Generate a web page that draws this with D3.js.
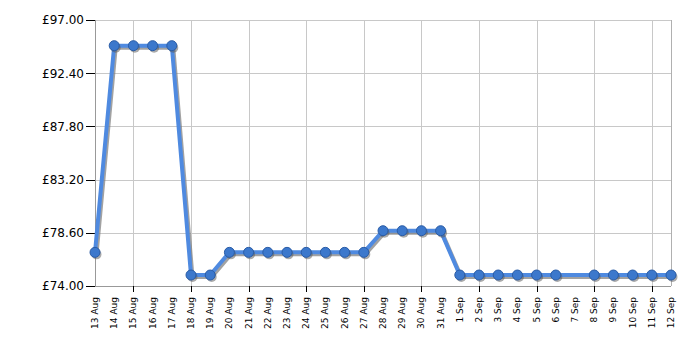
<!DOCTYPE html>
<html>
<head>
<meta charset="utf-8">
<script src="https://cdn.jsdelivr.net/npm/d3@7"></script>
<style>
body { margin: 0; background: #fff; }
text { font-family: Verdana, "DejaVu Sans", sans-serif; }
</style>
</head>
<body>
<script>
var dates = ["13 Aug", "14 Aug", "15 Aug", "16 Aug", "17 Aug", "18 Aug", "19 Aug", "20 Aug",
	"21 Aug", "22 Aug", "23 Aug", "24 Aug", "25 Aug", "26 Aug", "27 Aug", "28 Aug", "29 Aug",
	"30 Aug", "31 Aug", "1 Sep", "2 Sep", "3 Sep", "4 Sep", "5 Sep", "6 Sep", "7 Sep", "8 Sep",
	"9 Sep", "10 Sep", "11 Sep", "12 Sep"];

var prices = [76.91, 94.78, 94.78, 94.78, 94.78, 74.95, 74.95, 76.91,
	76.91, 76.91, 76.91, 76.91, 76.91, 76.91, 76.91, 78.78, 78.78,
	78.78, 78.78, 74.95, 74.95, 74.95, 74.95, 74.95, 74.95, null, 74.95,
	74.95, 74.95, 74.95, 74.95];

var yTicks = [74, 78.6, 83.2, 87.8, 92.4, 97];
var gridDates = ["15 Aug", "18 Aug", "21 Aug", "24 Aug", "27 Aug", "30 Aug", "2 Sep", "5 Sep", "8 Sep", "11 Sep"];

var margin = {top: 20, right: 29, bottom: 64, left: 95},
	width = 700 - margin.left - margin.right,
	height = 350 - margin.top - margin.bottom;

var svg = d3.select("body").append("svg")
	.attr("width", 700)
	.attr("height", 350)
	.append("g")
	.attr("transform", "translate(" + margin.left + "," + margin.top + ")");

var x = d3.scalePoint().domain(dates).range([0, width]);
var y = d3.scaleLinear().domain([74, 97]).range([height, 0]);

var points = dates.map(function(d, i) { return {date: d, price: prices[i]}; })
	.filter(function(d) { return d.price != null; });

// grid
svg.selectAll(".hgrid")
	.data(yTicks)
	.enter().append("line")
	.attr("x1", 0).attr("x2", width)
	.attr("y1", function(d) { return Math.round(y(d)) + 0.5; })
	.attr("y2", function(d) { return Math.round(y(d)) + 0.5; })
	.style("stroke", "#c8c8c8");

svg.selectAll(".vgrid")
	.data(gridDates)
	.enter().append("line")
	.attr("x1", function(d) { return Math.round(x(d)) + 0.5; })
	.attr("x2", function(d) { return Math.round(x(d)) + 0.5; })
	.attr("y1", 0).attr("y2", height)
	.style("stroke", "#c8c8c8");

// right border
svg.append("line")
	.attr("x1", width + 0.5).attr("x2", width + 0.5)
	.attr("y1", 0).attr("y2", height)
	.style("stroke", "#b0b0b0");

// axes lines
svg.append("line")
	.attr("x1", 0.5).attr("x2", 0.5).attr("y1", 0).attr("y2", height)
	.style("stroke", "#999");
svg.append("line")
	.attr("x1", 0).attr("x2", width).attr("y1", height + 0.5).attr("y2", height + 0.5)
	.style("stroke", "#999");

// y ticks and labels
svg.selectAll(".ytick")
	.data(yTicks)
	.enter().append("line")
	.attr("x1", -9).attr("x2", 0)
	.attr("y1", function(d) { return Math.round(y(d)) + 0.5; })
	.attr("y2", function(d) { return Math.round(y(d)) + 0.5; })
	.style("stroke", "#000");

svg.selectAll(".yLabel")
	.data(yTicks)
	.enter().append("text")
	.attr("x", -11)
	.attr("y", function(d) { return y(d); })
	.attr("dy", "0.36em")
	.style("text-anchor", "end")
	.style("font-size", "12px")
	.style("fill", "#000")
	.text(function(d) { return "£" + d.toFixed(2); });

// x ticks and labels
svg.selectAll(".xtick")
	.data(gridDates)
	.enter().append("line")
	.attr("x1", function(d) { return Math.round(x(d)) + 0.5; })
	.attr("x2", function(d) { return Math.round(x(d)) + 0.5; })
	.attr("y1", height).attr("y2", height + 6)
	.style("stroke", "#000");

svg.selectAll(".xLabel")
	.data(dates)
	.enter().append("text")
	.attr("transform", function(d) { return "translate(" + (x(d) + 3) + "," + (height + 11) + ") rotate(-90)"; })
	.style("text-anchor", "end")
	.style("font-size", "9px")
	.style("fill", "#000")
	.text(function(d) { return d; });

// line with shadow
var line = d3.line()
	.x(function(d) { return x(d.date); })
	.y(function(d) { return y(d.price); });

svg.append("path")
	.datum(points)
	.attr("d", line)
	.attr("transform", "translate(1.5,2)")
	.style("fill", "none")
	.style("stroke", "#7a7a7a")
	.style("stroke-opacity", 0.7)
	.style("stroke-width", 4);

svg.append("path")
	.datum(points)
	.attr("d", line)
	.style("fill", "none")
	.style("stroke", "#4f8ae0")
	.style("stroke-width", 4)
	.style("stroke-linejoin", "round");

svg.selectAll(".dotShadow")
	.data(points)
	.enter().append("circle")
	.attr("cx", function(d) { return x(d.date) + 1.5; })
	.attr("cy", function(d) { return y(d.price) + 2; })
	.attr("r", 5)
	.style("fill", "#555")
	.style("fill-opacity", 0.5);

svg.selectAll(".dot")
	.data(points)
	.enter().append("circle")
	.attr("cx", function(d) { return x(d.date); })
	.attr("cy", function(d) { return y(d.price); })
	.attr("r", 5)
	.style("fill", "#3c78cc")
	.style("stroke", "#2a5ca6")
	.style("stroke-width", 1);
</script>
</body>
</html>
